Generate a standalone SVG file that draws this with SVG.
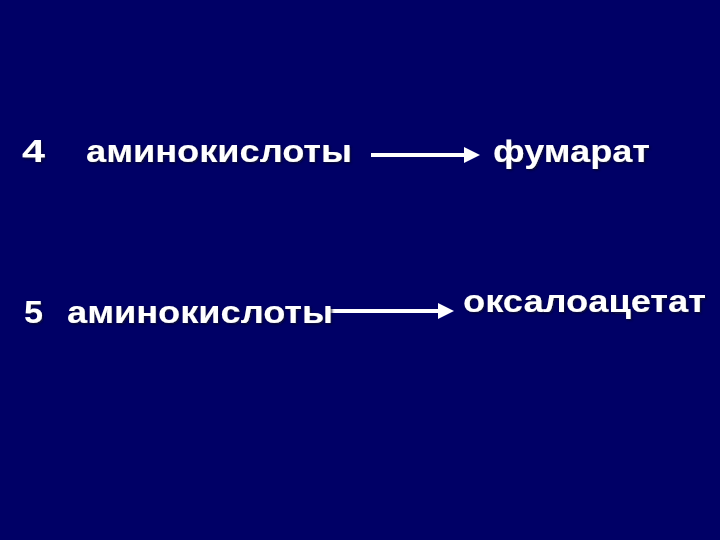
<svg xmlns="http://www.w3.org/2000/svg" width="720" height="540" viewBox="0 0 720 540">
<defs>
<style>
.t{font-family:"Liberation Sans",Arial,sans-serif;font-weight:bold;font-size:32px;fill:#ffffff;filter:url(#sh)}
.a{stroke:#ffffff;stroke-width:4;fill:none}
</style>
<filter id="sh" x="-5%" y="-20%" width="110%" height="140%">
<feDropShadow dx="1.5" dy="1.5" stdDeviation="0.8" flood-color="#10102a" flood-opacity="0.9"/>
</filter>
<marker id="ah" markerWidth="4" markerHeight="4" refX="0.5" refY="2" orient="auto" markerUnits="strokeWidth" viewBox="0 0 4 4">
<path d="M0,0 L4,2 L0,4 Z" fill="#ffffff"/>
</marker>
</defs>
<rect width="720" height="540" fill="#000066"/>
<g id="connectors">
<line class="a" x1="371" y1="155" x2="466" y2="155" marker-end="url(#ah)"/>
<line class="a" x1="328" y1="311" x2="440" y2="311" marker-end="url(#ah)"/>
</g>
<g id="n1"><text class="t" x="22" y="162" textLength="23" lengthAdjust="spacingAndGlyphs">4</text></g>
<g id="n2"><text class="t" x="86" y="162" textLength="266" lengthAdjust="spacingAndGlyphs">аминокислоты</text></g>
<g id="n3"><text class="t" x="493" y="162" textLength="157" lengthAdjust="spacingAndGlyphs">фумарат</text></g>
<g id="n4"><text class="t" x="24" y="323" textLength="19" lengthAdjust="spacingAndGlyphs">5</text></g>
<g id="n5"><text class="t" x="67" y="323" textLength="266" lengthAdjust="spacingAndGlyphs">аминокислоты</text></g>
<g id="n6"><text class="t" x="463" y="312" textLength="243" lengthAdjust="spacingAndGlyphs">оксалоацетат</text></g>
</svg>
